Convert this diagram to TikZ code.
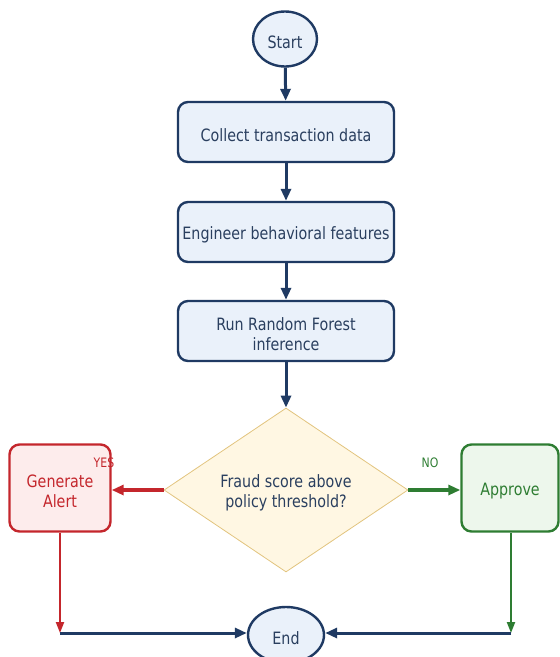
\documentclass[tikz,border=0pt]{standalone}
\usepackage{fontspec}
\setmainfont{DejaVu Sans}[FakeStretch=0.84]
\usetikzlibrary{shapes.geometric,arrows.meta}

\definecolor{navy}{HTML}{1F3A63}
\definecolor{navytext}{HTML}{2A3F5F}
\definecolor{boxfill}{HTML}{EAF1FA}
\definecolor{alertred}{HTML}{C4262C}
\definecolor{alertfill}{HTML}{FDECEC}
\definecolor{okgreen}{HTML}{2E7D32}
\definecolor{okfill}{HTML}{EDF7EC}
\definecolor{decfill}{HTML}{FFF7E3}
\definecolor{decline}{HTML}{E2C47E}

\tikzset{
  % text sits a little below the geometric centre of each shape
  inscribe/.style 2 args={label={[text=#1, align=center, inner sep=0pt,
    yshift=-3pt]center:#2}},
  terminal/.style={ellipse, draw=navy, line width=2.4pt, fill=boxfill,
    inner sep=0pt},
  process/.style={rectangle, rounded corners=10pt, draw=navy, line width=2.4pt,
    fill=boxfill, minimum width=216pt, minimum height=60pt},
  decision/.style={diamond, draw=decline, line width=0.8pt, fill=decfill,
    minimum width=244pt, minimum height=164pt, inner sep=0pt},
  alertbox/.style={rectangle, rounded corners=10pt, draw=alertred, line width=2.4pt,
    fill=alertfill, minimum width=101pt, minimum height=87pt},
  okbox/.style={rectangle, rounded corners=10pt, draw=okgreen, line width=2.4pt,
    fill=okfill, minimum width=97pt, minimum height=87pt},
  tip/.style={-{Triangle[length=12pt,width=10pt]}},
  flow/.style={tip, draw=navy, line width=3pt},
  yesflow/.style={tip, draw=alertred, line width=3.6pt},
  noflow/.style={tip, draw=okgreen, line width=3.6pt},
  yesdown/.style={-{Triangle[length=11pt,width=8pt]}, draw=alertred, line width=2pt},
  nodown/.style={-{Triangle[length=11pt,width=8pt]}, draw=okgreen, line width=2pt},
  branchlabel/.style={font=\fontsize{13}{15}\selectfont, inner sep=0pt},
}

\begin{document}
\begin{tikzpicture}[x=1pt, y=-1pt, font=\fontsize{17}{20}\selectfont]
\useasboundingbox (0,0) rectangle (560,657);

% main column
\node[terminal, minimum width=64pt, minimum height=55pt,
  inscribe={navytext}{Start}] (start) at (285,39) {};
\node[process, inscribe={navytext}{Collect transaction data}] (collect) at (286,132) {};
\node[process, inscribe={navytext}{Engineer behavioral features}] (engineer) at (286,232) {};
\node[process, inscribe={navytext}{Run Random Forest\\inference}] (infer) at (286,331) {};
\node[decision, inscribe={navytext}{Fraud score above\\policy threshold?}] (score) at (286,490) {};

% outcomes
\node[alertbox, inscribe={alertred}{Generate\\Alert}] (alert) at (60,488) {};
\node[okbox, inscribe={okgreen}{Approve}] (approve) at (510,488) {};
\node[terminal, minimum width=76pt, minimum height=56pt,
  inscribe={navytext}{End}] (finish) at (286,635) {};

\coordinate (alertdrop) at (60,633);
\coordinate (approvedrop) at (511,633);

% connectors
\draw[flow] (start) -- (collect);
\draw[flow] (collect) -- (engineer);
\draw[flow] (engineer) -- (infer);
\draw[flow] (infer) -- (score);
\draw[yesflow] (score.west) -- (score.west -| alert.east);
\draw[noflow] (score.east) -- (score.east -| approve.west);
\draw[yesdown] (alert.south) -- (alertdrop);
\draw[nodown] (approve.south -| approvedrop) -- (approvedrop);
\draw[flow] (alertdrop) -- (alertdrop -| finish.west);
\draw[flow] (approvedrop) -- (approvedrop -| finish.east);

% branch labels
\node[branchlabel, text=alertred] (yes) at (104,463) {YES};
\node[branchlabel, text=okgreen] (no) at (430,463) {NO};
\end{tikzpicture}
\end{document}
